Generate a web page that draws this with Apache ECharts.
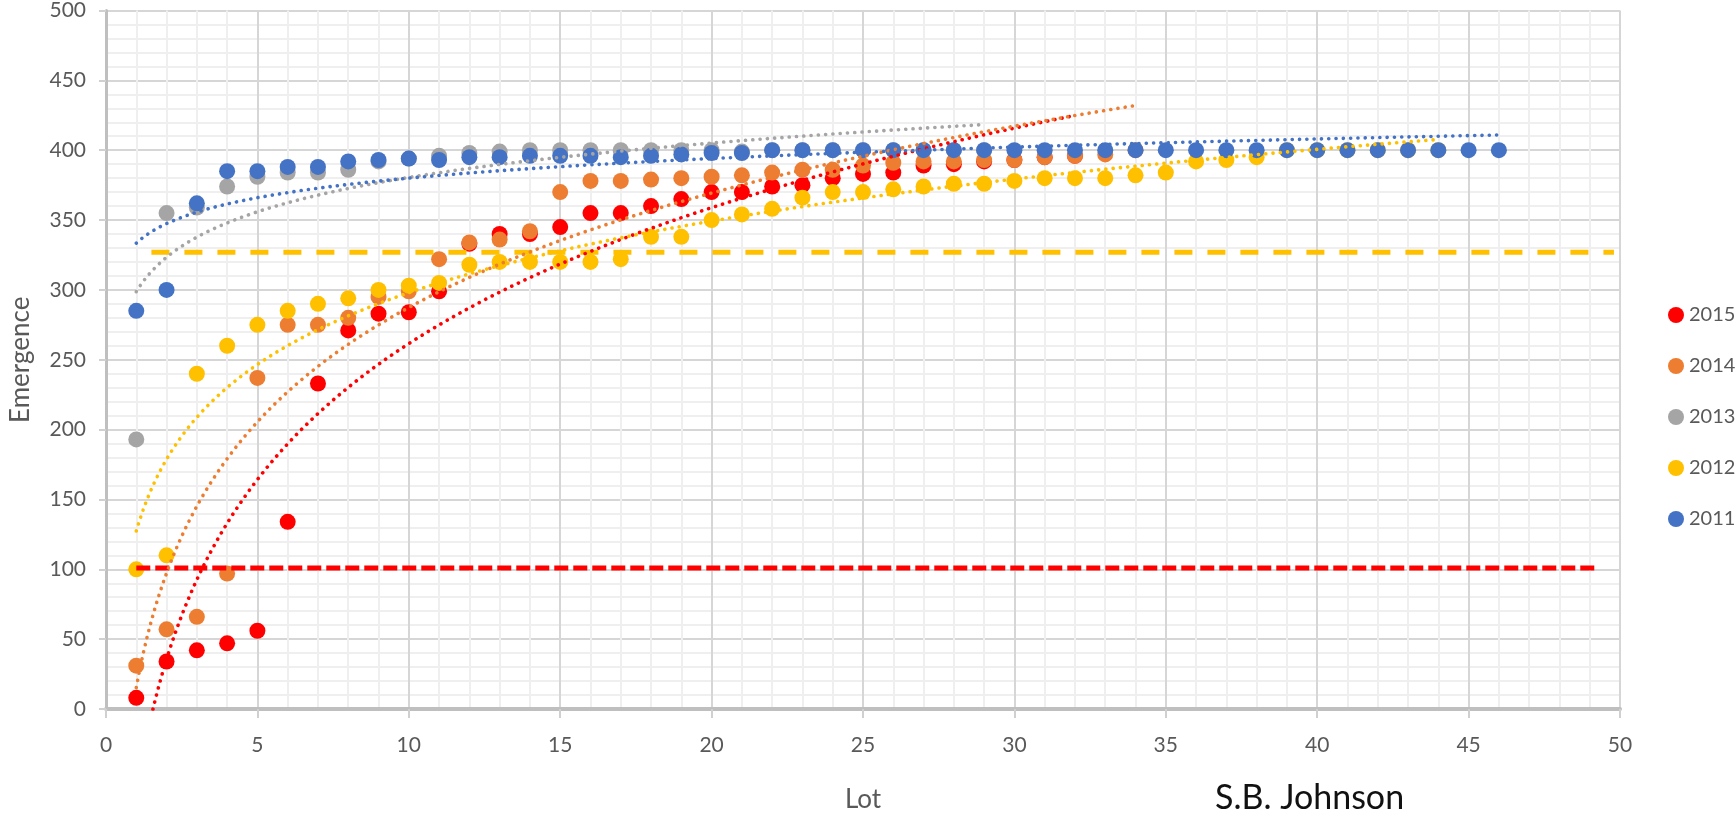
<!DOCTYPE html>
<html><head><meta charset="utf-8">
<script src="https://cdn.jsdelivr.net/npm/echarts@6/dist/echarts.min.js"></script>
<style>html,body{margin:0;padding:0;background:#fff}#c{width:1736px;height:818px}</style>
</head><body><div id="c"></div>
<script>
// ---- data ----
const years = ['2015', '2014', '2013', '2012', '2011'];
const colors = ['#FF0000', '#ED7D31', '#A5A5A5', '#FFC000', '#4472C4'];
const y2015 = [8, 34, 42, 47, 56, 134, 233, 271, 283, 284, 299, 333, 340, 340, 345, 355, 355, 360, 365, 370, 370, 374, 375, 380, 383, 384, 389, 390, 392, 393, 395, 396];
const y2014 = [31, 57, 66, 97, 237, 275, 275, 280, 295, 299, 322, 334, 336, 342, 370, 378, 378, 379, 380, 381, 382, 384, 386, 386, 389, 391, 392, 392, 393, 393, 395, 396, 397, 400];
const y2013 = [193, 355, 359, 374, 381, 384, 384, 386, 392, 394, 396, 398, 399, 400, 400, 400, 400, 400, 400, 400, 399, 400, 400, 400, 400, 400, 400, 400, 400];
const y2012 = [100, 110, 240, 260, 275, 285, 290, 294, 300, 303, 305, 318, 320, 320, 320, 320, 322, 338, 338, 350, 354, 358, 366, 370, 370, 372, 374, 376, 376, 378, 380, 380, 380, 382, 384, 392, 393, 395, 400, 400, 400, 400, 400, 400];
const y2011 = [285, 300, 362, 385, 385, 388, 388, 392, 393, 394, 393, 395, 395, 396, 396, 396, 395, 396, 397, 398, 398, 400, 400, 400, 400, 400, 400, 400, 400, 400, 400, 400, 400, 400, 400, 400, 400, 400, 400, 400, 400, 400, 400, 400, 400, 400];
const seriesValues = [y2015, y2014, y2013, y2012, y2011];
// horizontal reference lines: [x start, x end, value]
const redRefLine = [1, 49.2, 101];
const yellowRefLine = [1.5, 49.8, 327];
const xTicks = [0, 5, 10, 15, 20, 25, 30, 35, 40, 45, 50];
const yTicks = [0, 50, 100, 150, 200, 250, 300, 350, 400, 450, 500];

// ---- build ----
const FONT = 'Lato';
const LABEL = '#595959';

function pairs(vals) { return vals.map((v, i) => [i + 1, v]); }
// logarithmic least-squares trendline (y = a ln x + b), like the spreadsheet's
function logTrend(vals) {
  const n = vals.length;
  let sx = 0, sy = 0, sxx = 0, sxy = 0;
  vals.forEach((v, i) => { const l = Math.log(i + 1); sx += l; sy += v; sxx += l * l; sxy += l * v; });
  const a = (n * sxy - sx * sy) / (n * sxx - sx * sx);
  const b = (sy - a * sx) / n;
  const pts = [];
  for (let x = 1; x <= n + 1e-9; x += 0.05) pts.push([x, a * Math.log(x) + b]);
  return pts;
}

const series = [];
years.forEach((yr, k) => {
  series.push({
    name: yr, type: 'scatter', data: pairs(seriesValues[k]),
    symbol: 'circle', symbolSize: 16, z: 3 + k,
    itemStyle: { color: colors[k], opacity: 1 }
  });
});
years.forEach((yr, k) => {
  series.push({
    name: yr + ' trend', type: 'line', data: logTrend(seriesValues[k]),
    showSymbol: false, symbol: 'none', smooth: false, z: 20, clip: true, silent: true,
    lineStyle: { color: colors[k], width: 3.6, type: [0.1, 7.2], cap: 'round' }
  });
});
series.push({
  name: 'red ref', type: 'line', symbol: 'none', z: 15, silent: true,
  data: [[redRefLine[0], redRefLine[2]], [redRefLine[1], redRefLine[2]]],
  lineStyle: { color: '#FF0000', width: 5, type: [14, 5] }
});
series.push({
  name: 'yellow ref', type: 'line', symbol: 'none', z: 15, silent: true,
  data: [[yellowRefLine[0], yellowRefLine[2]], [yellowRefLine[1], yellowRefLine[2]]],
  lineStyle: { color: '#FFC000', width: 5, type: [18, 15] }
});

const chart = echarts.init(document.getElementById('c'), null, { renderer: 'canvas' });
chart.setOption({
  backgroundColor: '#fff',
  animation: false,
  textStyle: { fontFamily: FONT },
  title: {
    text: 'S.B. Johnson', left: 1210, top: 776,
    textStyle: { fontFamily: FONT, fontSize: 34, fontWeight: 'normal', color: '#111' }
  },
  legend: {
    data: years, orient: 'vertical', left: 1663, top: 300, itemGap: 31,
    icon: 'circle', itemWidth: 16, itemHeight: 16,
    textStyle: { fontFamily: FONT, fontSize: 20, color: LABEL }
  },
  grid: { left: 93, right: 116, top: 10, bottom: 105, containLabel: false },
  xAxis: {
    type: 'value', min: xTicks[0], max: xTicks[xTicks.length - 1], interval: xTicks[1] - xTicks[0],
    name: 'Lot', nameLocation: 'middle', nameGap: 78,
    nameTextStyle: { fontFamily: FONT, fontSize: 26, color: LABEL },
    axisLine: { show: true, onZero: false, lineStyle: { color: '#BFBFBF', width: 4 } },
    axisTick: { show: true, length: 9, lineStyle: { color: '#D0D0D0', width: 2 } },
    axisLabel: { margin: 26, fontFamily: FONT, fontSize: 21, color: LABEL },
    splitLine: { show: true, lineStyle: { color: '#D6D6D6', width: 2 } },
    minorTick: { show: false, splitNumber: 5 },
    minorSplitLine: { show: true, lineStyle: { color: '#EFEFEF', width: 2 } }
  },
  yAxis: {
    type: 'value', min: yTicks[0], max: yTicks[yTicks.length - 1], interval: yTicks[1] - yTicks[0],
    name: 'Emergence', nameLocation: 'middle', nameGap: 72, nameRotate: 90,
    nameTextStyle: { fontFamily: FONT, fontSize: 26, color: LABEL },
    axisLine: { show: true, lineStyle: { color: '#BFBFBF', width: 3 } },
    axisTick: { show: true, length: 7, lineStyle: { color: '#D0D0D0', width: 2 } },
    axisLabel: { margin: 20, fontFamily: FONT, fontSize: 21, color: LABEL },
    splitLine: { show: true, lineStyle: { color: '#D6D6D6', width: 2 } },
    minorTick: { show: false, splitNumber: 5 },
    minorSplitLine: { show: true, lineStyle: { color: '#EFEFEF', width: 2 } }
  },
  series: series
});
</script></body></html>
